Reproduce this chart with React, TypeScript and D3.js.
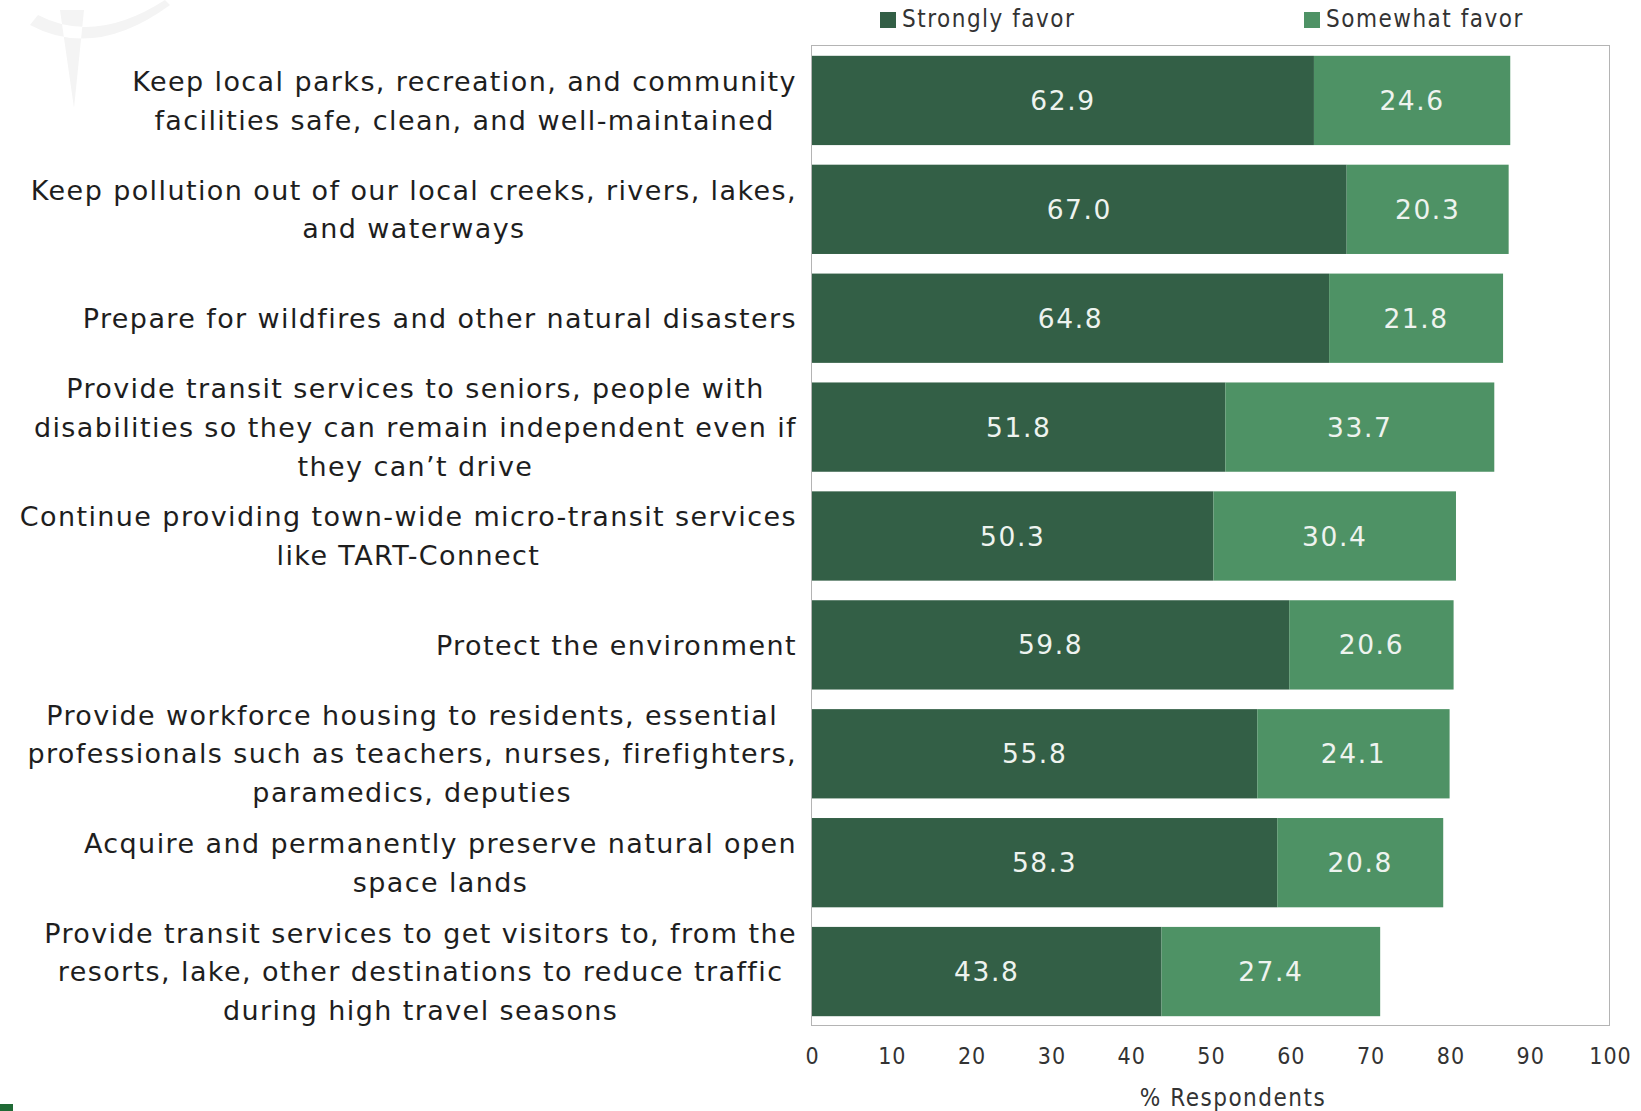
import * as d3 from 'd3';
import { useRef, useEffect } from 'react';

const categories = [
  ['Keep local parks, recreation, and community', 'facilities safe, clean, and well-maintained'],
  ['Keep pollution out of our local creeks, rivers, lakes,', 'and waterways'],
  ['Prepare for wildfires and other natural disasters'],
  ['Provide transit services to seniors, people with', 'disabilities so they can remain independent even if', 'they can\u2019t drive'],
  ['Continue providing town-wide micro-transit services', 'like TART-Connect'],
  ['Protect the environment'],
  ['Provide workforce housing to residents, essential', 'professionals such as teachers, nurses, firefighters,', 'paramedics, deputies'],
  ['Acquire and permanently preserve natural open', 'space lands'],
  ['Provide transit services to get visitors to, from the', 'resorts, lake, other destinations to reduce traffic', 'during high travel seasons'],
];
const stronglyFavor = [62.9, 67.0, 64.8, 51.8, 50.3, 59.8, 55.8, 58.3, 43.8];
const somewhatFavor = [24.6, 20.3, 21.8, 33.7, 30.4, 20.6, 24.1, 20.8, 27.4];
const seriesNames = ['Strongly favor', 'Somewhat favor'];
const colors = ['#335f46', '#4e9265'];

export default function App() {
  const ref = useRef(null);

  useEffect(() => {
    const svg = d3.select(ref.current);
    svg.selectAll('*').remove();

    const labelFont = '"DejaVu Sans", sans-serif';
    const narrowFont = '"Liberation Sans Narrow", "DejaVu Sans Condensed", "Roboto Condensed", sans-serif';

    const x = d3.scaleLinear().domain([0, 100]).range([812, 1610]);
    const y = d3.scaleBand()
      .domain(categories.map((_, i) => String(i)))
      .range([46, 1026])
      .paddingInner(0.18)
      .paddingOuter(0.09);

    // faint watermark
    svg.append('path')
      .attr('d', 'M30,25 Q95,60 170,5 L165,0 Q95,45 38,15 Z M60,10 L84,10 L74,108 Z')
      .attr('fill', '#f4f4f4');

    // plot frame
    svg.append('rect')
      .attr('x', 811.5).attr('y', 45.5)
      .attr('width', 798).attr('height', 980)
      .attr('fill', 'white')
      .attr('stroke', '#b4b4b4');

    const rows = categories.map((c, i) => ({ key: String(i), lines: c, a: stronglyFavor[i], b: somewhatFavor[i] }));

    const g = svg.append('g');
    rows.forEach(r => {
      const y0 = y(r.key);
      const bw = y.bandwidth();
      g.append('rect').attr('x', x(0)).attr('y', y0).attr('width', x(r.a) - x(0)).attr('height', bw).attr('fill', colors[0]);
      g.append('rect').attr('x', x(r.a)).attr('y', y0).attr('width', x(r.a + r.b) - x(r.a)).attr('height', bw).attr('fill', colors[1]);
      [[0, r.a], [r.a, r.a + r.b]].forEach(([s, e], k) => {
        g.append('text')
          .attr('x', (x(s) + x(e)) / 2)
          .attr('y', y0 + bw / 2)
          .attr('dy', '0.36em')
          .attr('text-anchor', 'middle')
          .attr('fill', '#eef3ef')
          .attr('font-family', labelFont)
          .attr('font-size', 26.5)
          .attr('letter-spacing', 1.6)
          .text((k === 0 ? r.a : r.b).toFixed(1));
      });

      // category label: centered lines, block right-aligned
      const lg = svg.append('g');
      const n = r.lines.length;
      const lh = 38.7;
      const texts = r.lines.map((line, li) =>
        lg.append('text')
          .attr('y', y0 + bw / 2 + (li - (n - 1) / 2) * lh)
          .attr('dy', '0.36em')
          .attr('text-anchor', 'middle')
          .attr('fill', '#1e1e1e')
          .attr('font-family', labelFont)
          .attr('font-size', 27)
          .attr('letter-spacing', 1.4)
          .text(line));
      const maxW = d3.max(texts, t => (t.node() as SVGTextElement).getComputedTextLength()) || 0;
      texts.forEach(t => t.attr('x', 797 - maxW / 2));
    });

    // x axis
    const axis = svg.append('g')
      .attr('transform', 'translate(0,1026)')
      .call(d3.axisBottom(x).ticks(10).tickSize(0).tickPadding(22));
    axis.select('.domain').remove();
    axis.selectAll('text')
      .attr('font-family', narrowFont)
      .attr('font-size', 23)
      .attr('letter-spacing', 1)
      .attr('fill', '#333');

    svg.append('text')
      .attr('x', 1233).attr('y', 1106)
      .attr('text-anchor', 'middle')
      .attr('font-family', narrowFont)
      .attr('font-size', 24)
      .attr('letter-spacing', 1.5)
      .attr('fill', '#333')
      .text('% Respondents');

    // legend
    const legendX = [880, 1304];
    seriesNames.forEach((name, i) => {
      svg.append('rect')
        .attr('x', legendX[i]).attr('y', 12)
        .attr('width', 16).attr('height', 16)
        .attr('fill', colors[i]);
      svg.append('text')
        .attr('x', legendX[i] + 22).attr('y', 27)
        .attr('font-family', narrowFont)
        .attr('font-size', 24)
        .attr('letter-spacing', 1.5)
        .attr('fill', '#333')
        .text(name);
    });

    // small corner mark
    svg.append('rect').attr('x', 0).attr('y', 1104).attr('width', 13).attr('height', 7).attr('fill', '#1f6a35');
  }, []);

  return (
    <svg ref={ref} width={1641} height={1111}
      style={{ position: 'absolute', left: 0, top: 0, background: 'white' }}></svg>
  );
}
